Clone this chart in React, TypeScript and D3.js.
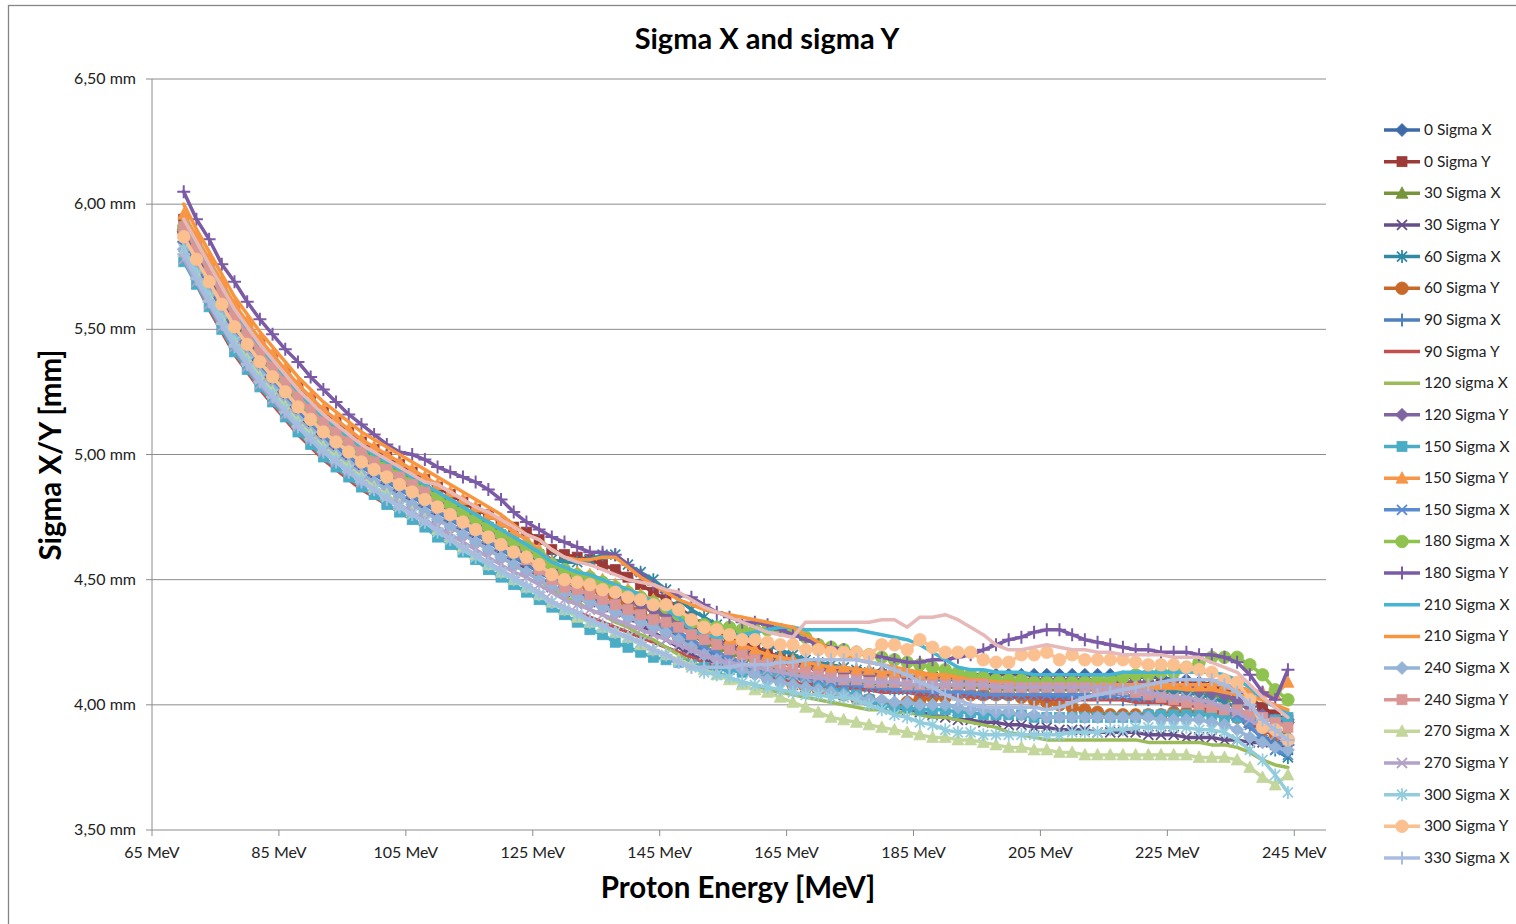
import React from "react";
import * as d3 from "d3";

// Proton energies [MeV] of every measurement point
const energies = [
  70, 72, 74, 76, 78, 80, 82, 84, 86, 88,
  90, 92, 94, 96, 98, 100, 102, 104, 106, 108,
  110, 112, 114, 116, 118, 120, 122, 124, 126, 128,
  130, 132, 134, 136, 138, 140, 142, 144, 146, 148,
  150, 152, 154, 156, 158, 160, 162, 164, 166, 168,
  170, 172, 174, 176, 178, 180, 182, 184, 186, 188,
  190, 192, 194, 196, 198, 200, 202, 204, 206, 208,
  210, 212, 214, 216, 218, 220, 222, 224, 226, 228,
  230, 232, 234, 236, 238, 240, 242, 244,
];

// Beam sigma [mm] per gantry angle
const sigma0X = [
  5.90, 5.81, 5.72, 5.63, 5.54, 5.47, 5.40, 5.34, 5.28, 5.22,
  5.17, 5.12, 5.08, 5.04, 5.00, 4.97, 4.94, 4.91, 4.88, 4.85,
  4.82, 4.79, 4.76, 4.73, 4.70, 4.67, 4.64, 4.61, 4.58, 4.55,
  4.53, 4.51, 4.49, 4.47, 4.45, 4.43, 4.41, 4.39, 4.37, 4.34,
  4.31, 4.28, 4.26, 4.24, 4.22, 4.20, 4.19, 4.18, 4.17, 4.16,
  4.15, 4.14, 4.14, 4.13, 4.13, 4.13, 4.12, 4.12, 4.12, 4.12,
  4.12, 4.12, 4.12, 4.12, 4.12, 4.12, 4.12, 4.12, 4.12, 4.12,
  4.12, 4.12, 4.12, 4.12, 4.11, 4.11, 4.11, 4.11, 4.10, 4.10,
  4.09, 4.08, 4.07, 4.05, 4.02, 3.98, 3.95, 3.93,
];
const sigma0Y = [
  5.94, 5.85, 5.76, 5.67, 5.59, 5.52, 5.45, 5.39, 5.33, 5.27,
  5.22, 5.17, 5.13, 5.09, 5.05, 5.02, 4.99, 4.96, 4.93, 4.90,
  4.87, 4.84, 4.81, 4.78, 4.76, 4.73, 4.71, 4.69, 4.66, 4.62,
  4.60, 4.59, 4.58, 4.56, 4.54, 4.51, 4.48, 4.45, 4.42, 4.39,
  4.35, 4.32, 4.29, 4.27, 4.25, 4.23, 4.21, 4.19, 4.18, 4.16,
  4.15, 4.14, 4.13, 4.13, 4.12, 4.12, 4.12, 4.12, 4.11, 4.11,
  4.11, 4.11, 4.11, 4.10, 4.10, 4.10, 4.10, 4.10, 4.10, 4.10,
  4.10, 4.10, 4.09, 4.09, 4.09, 4.09, 4.08, 4.08, 4.08, 4.08,
  4.07, 4.07, 4.06, 4.05, 4.03, 3.99, 3.96, 3.94,
];
const sigma30X = [
  5.93, 5.83, 5.74, 5.65, 5.56, 5.49, 5.42, 5.36, 5.30, 5.24,
  5.19, 5.14, 5.10, 5.06, 5.02, 4.99, 4.96, 4.93, 4.90, 4.87,
  4.84, 4.81, 4.78, 4.75, 4.72, 4.69, 4.66, 4.63, 4.60, 4.56,
  4.53, 4.51, 4.49, 4.47, 4.45, 4.42, 4.40, 4.37, 4.35, 4.32,
  4.28, 4.25, 4.23, 4.21, 4.19, 4.17, 4.15, 4.14, 4.13, 4.12,
  4.11, 4.10, 4.10, 4.09, 4.09, 4.08, 4.08, 4.08, 4.07, 4.07,
  4.07, 4.07, 4.07, 4.07, 4.06, 4.06, 4.06, 4.06, 4.06, 4.06,
  4.06, 4.06, 4.06, 4.06, 4.06, 4.06, 4.06, 4.05, 4.05, 4.05,
  4.04, 4.04, 4.03, 4.01, 3.98, 3.93, 3.90, 3.88,
];
const sigma30Y = [
  5.83, 5.74, 5.65, 5.56, 5.47, 5.40, 5.33, 5.27, 5.21, 5.15,
  5.10, 5.05, 5.01, 4.97, 4.93, 4.90, 4.87, 4.84, 4.81, 4.78,
  4.75, 4.72, 4.69, 4.66, 4.63, 4.60, 4.57, 4.54, 4.51, 4.47,
  4.45, 4.43, 4.41, 4.39, 4.37, 4.35, 4.32, 4.29, 4.26, 4.23,
  4.20, 4.18, 4.17, 4.15, 4.14, 4.13, 4.11, 4.10, 4.08, 4.07,
  4.06, 4.05, 4.04, 4.03, 4.02, 4.00, 3.99, 3.98, 3.97, 3.96,
  3.95, 3.94, 3.94, 3.93, 3.93, 3.92, 3.92, 3.91, 3.91, 3.90,
  3.90, 3.90, 3.89, 3.89, 3.89, 3.89, 3.88, 3.88, 3.88, 3.87,
  3.87, 3.87, 3.86, 3.86, 3.85, 3.85, 3.84, 3.82,
];
const sigma60X = [
  5.91, 5.82, 5.73, 5.64, 5.55, 5.48, 5.41, 5.35, 5.29, 5.23,
  5.18, 5.13, 5.09, 5.05, 5.01, 4.98, 4.95, 4.92, 4.89, 4.86,
  4.83, 4.80, 4.77, 4.74, 4.71, 4.68, 4.65, 4.62, 4.60, 4.58,
  4.57, 4.57, 4.58, 4.60, 4.60, 4.56, 4.53, 4.50, 4.46, 4.42,
  4.38, 4.35, 4.32, 4.30, 4.28, 4.26, 4.24, 4.22, 4.20, 4.18,
  4.17, 4.16, 4.15, 4.14, 4.13, 4.12, 4.12, 4.11, 4.11, 4.10,
  4.10, 4.10, 4.09, 4.09, 4.09, 4.08, 4.08, 4.08, 4.08, 4.08,
  4.08, 4.08, 4.07, 4.07, 4.07, 4.07, 4.06, 4.06, 4.05, 4.05,
  4.04, 4.03, 4.01, 3.99, 3.95, 3.88, 3.82, 3.79,
];
const sigma60Y = [
  5.89, 5.80, 5.71, 5.62, 5.53, 5.46, 5.39, 5.33, 5.27, 5.21,
  5.16, 5.11, 5.07, 5.03, 4.99, 4.96, 4.93, 4.90, 4.87, 4.84,
  4.81, 4.78, 4.75, 4.72, 4.69, 4.66, 4.63, 4.60, 4.57, 4.53,
  4.50, 4.48, 4.46, 4.44, 4.42, 4.40, 4.37, 4.34, 4.31, 4.27,
  4.24, 4.21, 4.19, 4.17, 4.15, 4.13, 4.11, 4.10, 4.08, 4.07,
  4.06, 4.05, 4.04, 4.03, 4.02, 4.01, 4.00, 4.01, 4.02, 4.03,
  4.03, 4.04, 4.04, 4.04, 4.04, 4.04, 4.03, 4.02, 4.01, 4.00,
  3.99, 3.98, 3.97, 3.96, 3.96, 3.96, 3.96, 3.96, 3.97, 3.97,
  3.97, 3.97, 3.96, 3.95, 3.93, 3.90, 3.88, 3.86,
];
const sigma90X = [
  5.85, 5.76, 5.67, 5.58, 5.49, 5.42, 5.35, 5.29, 5.23, 5.17,
  5.12, 5.07, 5.03, 4.99, 4.95, 4.92, 4.89, 4.86, 4.83, 4.80,
  4.77, 4.74, 4.71, 4.68, 4.65, 4.62, 4.59, 4.56, 4.53, 4.50,
  4.47, 4.45, 4.43, 4.41, 4.39, 4.37, 4.35, 4.33, 4.31, 4.28,
  4.25, 4.22, 4.20, 4.18, 4.16, 4.14, 4.13, 4.12, 4.11, 4.10,
  4.09, 4.08, 4.07, 4.07, 4.06, 4.06, 4.05, 4.05, 4.05, 4.04,
  4.04, 4.04, 4.04, 4.03, 4.03, 4.03, 4.03, 4.03, 4.03, 4.03,
  4.03, 4.03, 4.03, 4.03, 4.02, 4.02, 4.02, 4.02, 4.01, 4.01,
  4.00, 3.99, 3.97, 3.95, 3.91, 3.87, 3.85, 3.84,
];
const sigma90Y = [
  5.80, 5.68, 5.58, 5.49, 5.40, 5.33, 5.26, 5.20, 5.14, 5.08,
  5.03, 4.98, 4.94, 4.90, 4.86, 4.83, 4.80, 4.77, 4.74, 4.71,
  4.68, 4.65, 4.62, 4.59, 4.56, 4.53, 4.50, 4.48, 4.45, 4.41,
  4.39, 4.37, 4.35, 4.33, 4.31, 4.29, 4.27, 4.25, 4.23, 4.21,
  4.19, 4.17, 4.15, 4.14, 4.13, 4.12, 4.11, 4.10, 4.09, 4.08,
  4.08, 4.07, 4.07, 4.06, 4.06, 4.05, 4.05, 4.05, 4.04, 4.04,
  4.04, 4.04, 4.03, 4.03, 4.03, 4.03, 4.03, 4.03, 4.02, 4.02,
  4.02, 4.02, 4.02, 4.02, 4.02, 4.01, 4.01, 4.01, 4.00, 4.00,
  3.99, 3.98, 3.97, 3.96, 3.93, 3.90, 3.88, 3.87,
];
const sigma120X = [
  5.82, 5.73, 5.64, 5.55, 5.46, 5.39, 5.32, 5.26, 5.20, 5.14,
  5.09, 5.04, 5.00, 4.96, 4.92, 4.89, 4.86, 4.83, 4.80, 4.77,
  4.74, 4.71, 4.68, 4.65, 4.62, 4.59, 4.56, 4.53, 4.50, 4.46,
  4.43, 4.41, 4.38, 4.36, 4.33, 4.31, 4.28, 4.26, 4.23, 4.20,
  4.17, 4.15, 4.13, 4.11, 4.09, 4.08, 4.06, 4.05, 4.04, 4.03,
  4.02, 4.01, 4.00, 3.99, 3.98, 3.98, 3.97, 3.97, 3.96, 3.95,
  3.95, 3.94, 3.93, 3.92, 3.91, 3.89, 3.88, 3.87, 3.86, 3.86,
  3.86, 3.86, 3.86, 3.86, 3.86, 3.86, 3.85, 3.85, 3.85, 3.85,
  3.85, 3.84, 3.84, 3.83, 3.81, 3.78, 3.76, 3.75,
];
const sigma120Y = [
  5.89, 5.80, 5.71, 5.62, 5.53, 5.46, 5.39, 5.33, 5.27, 5.21,
  5.16, 5.11, 5.07, 5.03, 4.99, 4.96, 4.93, 4.90, 4.87, 4.84,
  4.81, 4.78, 4.75, 4.72, 4.69, 4.66, 4.63, 4.60, 4.57, 4.54,
  4.52, 4.50, 4.48, 4.46, 4.44, 4.42, 4.40, 4.38, 4.36, 4.33,
  4.30, 4.27, 4.25, 4.23, 4.21, 4.19, 4.18, 4.17, 4.16, 4.15,
  4.14, 4.14, 4.13, 4.13, 4.12, 4.12, 4.12, 4.11, 4.11, 4.11,
  4.11, 4.11, 4.11, 4.10, 4.10, 4.10, 4.10, 4.10, 4.10, 4.10,
  4.10, 4.10, 4.10, 4.09, 4.09, 4.09, 4.09, 4.08, 4.08, 4.07,
  4.06, 4.05, 4.04, 4.02, 3.99, 3.96, 3.94, 3.94,
];
const sigma150X = [
  5.77, 5.68, 5.59, 5.50, 5.41, 5.34, 5.27, 5.21, 5.15, 5.09,
  5.04, 4.99, 4.95, 4.91, 4.87, 4.84, 4.80, 4.77, 4.74, 4.71,
  4.67, 4.64, 4.61, 4.58, 4.54, 4.51, 4.48, 4.45, 4.42, 4.39,
  4.36, 4.33, 4.30, 4.28, 4.25, 4.23, 4.21, 4.19, 4.18, 4.17,
  4.16, 4.15, 4.14, 4.14, 4.13, 4.13, 4.12, 4.12, 4.12, 4.11,
  4.09, 4.07, 4.05, 4.04, 4.02, 4.00, 3.99, 3.99, 3.98, 3.98,
  3.98, 3.97, 3.97, 3.96, 3.96, 3.96, 3.96, 3.95, 3.95, 3.95,
  3.95, 3.95, 3.95, 3.95, 3.95, 3.95, 3.96, 3.96, 3.96, 3.96,
  3.96, 3.96, 3.95, 3.95, 3.94, 3.94, 3.94, 3.95,
];
const sigma150Y = [
  5.96, 5.87, 5.78, 5.69, 5.60, 5.53, 5.46, 5.40, 5.34, 5.28,
  5.23, 5.18, 5.14, 5.10, 5.06, 5.03, 5.00, 4.97, 4.94, 4.91,
  4.88, 4.85, 4.82, 4.79, 4.76, 4.73, 4.69, 4.66, 4.62, 4.57,
  4.54, 4.53, 4.52, 4.50, 4.48, 4.46, 4.44, 4.42, 4.40, 4.37,
  4.33, 4.30, 4.28, 4.26, 4.24, 4.22, 4.20, 4.19, 4.18, 4.17,
  4.16, 4.15, 4.15, 4.14, 4.14, 4.13, 4.13, 4.13, 4.12, 4.12,
  4.12, 4.12, 4.11, 4.11, 4.10, 4.10, 4.10, 4.09, 4.09, 4.09,
  4.09, 4.09, 4.09, 4.08, 4.08, 4.08, 4.08, 4.08, 4.08, 4.08,
  4.08, 4.08, 4.08, 4.07, 4.06, 4.05, 4.04, 4.09,
];
const sigma150Xb = [
  5.86, 5.77, 5.68, 5.59, 5.51, 5.43, 5.36, 5.30, 5.24, 5.19,
  5.13, 5.08, 5.04, 5.00, 4.96, 4.93, 4.90, 4.87, 4.84, 4.81,
  4.78, 4.75, 4.72, 4.69, 4.66, 4.63, 4.60, 4.58, 4.55, 4.51,
  4.48, 4.46, 4.44, 4.42, 4.40, 4.38, 4.36, 4.34, 4.32, 4.29,
  4.26, 4.23, 4.21, 4.19, 4.17, 4.15, 4.14, 4.13, 4.12, 4.11,
  4.10, 4.09, 4.08, 4.08, 4.07, 4.07, 4.06, 4.06, 4.06, 4.05,
  4.05, 4.05, 4.05, 4.04, 4.04, 4.04, 4.04, 4.04, 4.04, 4.04,
  4.04, 4.04, 4.04, 4.04, 4.04, 4.03, 4.03, 4.03, 4.02, 4.02,
  4.01, 4.00, 3.98, 3.96, 3.92, 3.86, 3.82, 3.80,
];
const sigma180X = [
  5.91, 5.82, 5.73, 5.64, 5.55, 5.48, 5.41, 5.35, 5.29, 5.23,
  5.18, 5.13, 5.09, 5.05, 5.01, 4.98, 4.95, 4.92, 4.89, 4.86,
  4.83, 4.80, 4.77, 4.74, 4.71, 4.68, 4.65, 4.63, 4.60, 4.56,
  4.54, 4.52, 4.51, 4.49, 4.47, 4.45, 4.43, 4.41, 4.39, 4.36,
  4.33, 4.32, 4.31, 4.31, 4.30, 4.30, 4.30, 4.30, 4.29, 4.27,
  4.24, 4.23, 4.22, 4.21, 4.20, 4.19, 4.18, 4.17, 4.16, 4.15,
  4.14, 4.13, 4.12, 4.11, 4.10, 4.10, 4.10, 4.09, 4.09, 4.09,
  4.09, 4.09, 4.10, 4.10, 4.11, 4.12, 4.12, 4.13, 4.13, 4.15,
  4.17, 4.19, 4.19, 4.19, 4.16, 4.12, 4.06, 4.02,
];
const sigma180Y = [
  6.05, 5.94, 5.86, 5.76, 5.69, 5.61, 5.54, 5.48, 5.42, 5.37,
  5.31, 5.26, 5.21, 5.16, 5.12, 5.08, 5.04, 5.01, 5.00, 4.98,
  4.95, 4.93, 4.91, 4.89, 4.86, 4.82, 4.77, 4.73, 4.70, 4.67,
  4.65, 4.63, 4.61, 4.61, 4.60, 4.56, 4.52, 4.48, 4.45, 4.44,
  4.43, 4.40, 4.37, 4.35, 4.33, 4.33, 4.32, 4.30, 4.28, 4.26,
  4.24, 4.23, 4.22, 4.21, 4.20, 4.19, 4.18, 4.17, 4.17, 4.18,
  4.18, 4.19, 4.20, 4.22, 4.24, 4.26, 4.27, 4.29, 4.30, 4.30,
  4.28, 4.26, 4.25, 4.24, 4.23, 4.22, 4.22, 4.21, 4.21, 4.21,
  4.20, 4.20, 4.19, 4.17, 4.12, 4.05, 4.02, 4.14,
];
const sigma210X = [
  5.92, 5.83, 5.75, 5.66, 5.57, 5.50, 5.43, 5.37, 5.31, 5.25,
  5.20, 5.15, 5.11, 5.07, 5.03, 5.00, 4.97, 4.94, 4.91, 4.88,
  4.85, 4.82, 4.79, 4.76, 4.73, 4.70, 4.67, 4.64, 4.61, 4.57,
  4.55, 4.53, 4.52, 4.50, 4.48, 4.46, 4.44, 4.41, 4.38, 4.35,
  4.30, 4.28, 4.27, 4.27, 4.28, 4.29, 4.30, 4.31, 4.31, 4.30,
  4.30, 4.30, 4.30, 4.30, 4.29, 4.28, 4.27, 4.26, 4.24, 4.21,
  4.18, 4.15, 4.14, 4.14, 4.13, 4.13, 4.13, 4.12, 4.12, 4.12,
  4.12, 4.12, 4.12, 4.12, 4.13, 4.13, 4.13, 4.13, 4.13, 4.13,
  4.13, 4.13, 4.12, 4.10, 4.07, 4.02, 3.99, 3.97,
];
const sigma210Y = [
  6.00, 5.90, 5.81, 5.72, 5.63, 5.56, 5.49, 5.43, 5.37, 5.31,
  5.26, 5.21, 5.17, 5.13, 5.09, 5.06, 5.03, 5.00, 4.97, 4.94,
  4.91, 4.88, 4.85, 4.82, 4.79, 4.76, 4.72, 4.68, 4.66, 4.62,
  4.59, 4.58, 4.58, 4.59, 4.59, 4.55, 4.51, 4.48, 4.45, 4.42,
  4.40, 4.38, 4.37, 4.36, 4.35, 4.34, 4.33, 4.32, 4.31, 4.28,
  4.25, 4.22, 4.20, 4.18, 4.17, 4.16, 4.15, 4.14, 4.13, 4.12,
  4.12, 4.11, 4.10, 4.10, 4.09, 4.09, 4.08, 4.08, 4.08, 4.08,
  4.08, 4.08, 4.08, 4.08, 4.08, 4.07, 4.07, 4.07, 4.07, 4.06,
  4.06, 4.06, 4.05, 4.04, 4.03, 4.02, 4.00, 3.98,
];
const sigma240X = [
  5.82, 5.73, 5.64, 5.55, 5.46, 5.39, 5.32, 5.26, 5.20, 5.14,
  5.09, 5.04, 5.00, 4.96, 4.92, 4.89, 4.86, 4.83, 4.80, 4.77,
  4.74, 4.71, 4.68, 4.65, 4.62, 4.59, 4.56, 4.53, 4.50, 4.47,
  4.45, 4.43, 4.41, 4.39, 4.37, 4.35, 4.33, 4.31, 4.29, 4.26,
  4.23, 4.20, 4.18, 4.16, 4.14, 4.12, 4.10, 4.09, 4.08, 4.07,
  4.06, 4.05, 4.04, 4.03, 4.02, 4.02, 4.01, 4.01, 4.00, 4.00,
  4.00, 3.99, 3.98, 3.98, 3.97, 3.97, 3.96, 3.96, 3.95, 3.95,
  3.95, 3.95, 3.95, 3.95, 3.95, 3.95, 3.95, 3.94, 3.94, 3.94,
  3.94, 3.93, 3.92, 3.90, 3.87, 3.85, 3.83, 3.82,
];
const sigma240Y = [
  5.91, 5.82, 5.73, 5.64, 5.55, 5.48, 5.41, 5.35, 5.29, 5.23,
  5.18, 5.13, 5.09, 5.05, 5.01, 4.97, 4.94, 4.91, 4.88, 4.85,
  4.79, 4.76, 4.73, 4.70, 4.67, 4.64, 4.61, 4.58, 4.54, 4.50,
  4.47, 4.46, 4.44, 4.42, 4.40, 4.38, 4.36, 4.34, 4.33, 4.31,
  4.28, 4.26, 4.24, 4.22, 4.20, 4.18, 4.16, 4.15, 4.14, 4.13,
  4.12, 4.11, 4.10, 4.10, 4.09, 4.09, 4.09, 4.08, 4.08, 4.08,
  4.08, 4.08, 4.08, 4.08, 4.07, 4.07, 4.07, 4.07, 4.07, 4.07,
  4.07, 4.07, 4.06, 4.06, 4.06, 4.05, 4.04, 4.03, 4.02, 4.01,
  4.00, 3.99, 3.98, 3.98, 3.96, 3.95, 3.93, 3.91,
];
const sigma270X = [
  5.81, 5.72, 5.63, 5.54, 5.45, 5.38, 5.31, 5.25, 5.19, 5.13,
  5.08, 5.03, 4.99, 4.95, 4.91, 4.87, 4.84, 4.80, 4.77, 4.74,
  4.70, 4.67, 4.63, 4.60, 4.56, 4.53, 4.50, 4.47, 4.44, 4.41,
  4.38, 4.35, 4.33, 4.31, 4.29, 4.27, 4.24, 4.22, 4.20, 4.18,
  4.16, 4.14, 4.12, 4.10, 4.08, 4.06, 4.05, 4.03, 4.01, 3.99,
  3.97, 3.95, 3.94, 3.93, 3.92, 3.91, 3.90, 3.89, 3.88, 3.87,
  3.87, 3.86, 3.86, 3.85, 3.84, 3.83, 3.83, 3.82, 3.82, 3.81,
  3.81, 3.80, 3.80, 3.80, 3.80, 3.80, 3.80, 3.80, 3.80, 3.80,
  3.79, 3.79, 3.79, 3.78, 3.75, 3.71, 3.68, 3.72,
];
const sigma270Y = [
  5.78, 5.69, 5.60, 5.51, 5.43, 5.35, 5.28, 5.22, 5.16, 5.11,
  5.06, 5.01, 4.97, 4.93, 4.89, 4.86, 4.83, 4.80, 4.77, 4.74,
  4.71, 4.68, 4.65, 4.62, 4.59, 4.56, 4.53, 4.51, 4.48, 4.45,
  4.42, 4.40, 4.38, 4.36, 4.34, 4.32, 4.30, 4.28, 4.26, 4.24,
  4.22, 4.20, 4.18, 4.17, 4.16, 4.15, 4.14, 4.13, 4.12, 4.11,
  4.11, 4.10, 4.10, 4.10, 4.09, 4.09, 4.09, 4.08, 4.08, 4.08,
  4.08, 4.08, 4.08, 4.08, 4.07, 4.07, 4.07, 4.07, 4.07, 4.07,
  4.07, 4.07, 4.07, 4.07, 4.06, 4.06, 4.05, 4.04, 4.03, 4.03,
  4.02, 4.01, 3.99, 3.97, 3.94, 3.91, 3.88, 3.86,
];
const sigma300X = [
  5.82, 5.72, 5.63, 5.54, 5.45, 5.37, 5.30, 5.24, 5.18, 5.12,
  5.07, 5.02, 4.98, 4.94, 4.90, 4.86, 4.83, 4.79, 4.76, 4.73,
  4.69, 4.66, 4.62, 4.59, 4.56, 4.53, 4.50, 4.47, 4.44, 4.41,
  4.38, 4.36, 4.33, 4.31, 4.29, 4.27, 4.25, 4.22, 4.20, 4.17,
  4.15, 4.13, 4.12, 4.11, 4.09, 4.08, 4.07, 4.06, 4.05, 4.04,
  4.04, 4.03, 4.03, 4.02, 4.00, 3.98, 3.96, 3.95, 3.93, 3.92,
  3.90, 3.89, 3.89, 3.88, 3.88, 3.88, 3.88, 3.88, 3.88, 3.88,
  3.89, 3.89, 3.89, 3.90, 3.90, 3.91, 3.91, 3.91, 3.91, 3.91,
  3.90, 3.90, 3.89, 3.86, 3.82, 3.78, 3.72, 3.65,
];
const sigma300Y = [
  5.87, 5.78, 5.69, 5.60, 5.51, 5.44, 5.37, 5.31, 5.25, 5.19,
  5.14, 5.09, 5.05, 5.01, 4.97, 4.94, 4.91, 4.88, 4.85, 4.82,
  4.79, 4.76, 4.73, 4.70, 4.67, 4.64, 4.61, 4.59, 4.56, 4.52,
  4.50, 4.49, 4.48, 4.46, 4.45, 4.43, 4.42, 4.40, 4.40, 4.38,
  4.34, 4.31, 4.30, 4.28, 4.26, 4.26, 4.25, 4.24, 4.24, 4.22,
  4.22, 4.21, 4.21, 4.21, 4.20, 4.24, 4.24, 4.22, 4.26, 4.23,
  4.21, 4.21, 4.21, 4.18, 4.17, 4.17, 4.20, 4.20, 4.21, 4.18,
  4.20, 4.18, 4.18, 4.18, 4.18, 4.17, 4.16, 4.16, 4.16, 4.15,
  4.14, 4.13, 4.10, 4.09, 4.02, 3.91, 3.90, 3.86,
];
const sigma330X = [
  5.80, 5.70, 5.61, 5.52, 5.43, 5.36, 5.29, 5.23, 5.17, 5.11,
  5.06, 5.01, 4.97, 4.93, 4.89, 4.86, 4.82, 4.79, 4.76, 4.73,
  4.70, 4.66, 4.63, 4.60, 4.57, 4.54, 4.51, 4.48, 4.45, 4.41,
  4.39, 4.37, 4.34, 4.32, 4.29, 4.27, 4.25, 4.22, 4.20, 4.17,
  4.15, 4.15, 4.15, 4.15, 4.16, 4.16, 4.16, 4.17, 4.17, 4.18,
  4.18, 4.18, 4.18, 4.18, 4.17, 4.16, 4.14, 4.12, 4.09, 4.07,
  4.04, 4.02, 4.00, 3.99, 3.99, 3.99, 3.99, 3.99, 3.98, 3.99,
  4.01, 4.03, 4.04, 4.05, 4.06, 4.07, 4.08, 4.09, 4.10, 4.10,
  4.10, 4.10, 4.08, 4.05, 4.00, 3.94, 3.90, 3.86,
];
const sigma330Y = [
  5.94, 5.85, 5.76, 5.67, 5.58, 5.51, 5.44, 5.38, 5.32, 5.26,
  5.21, 5.16, 5.12, 5.08, 5.04, 5.01, 4.98, 4.95, 4.92, 4.89,
  4.88, 4.85, 4.82, 4.79, 4.77, 4.74, 4.71, 4.68, 4.66, 4.62,
  4.59, 4.57, 4.56, 4.54, 4.52, 4.50, 4.49, 4.48, 4.46, 4.45,
  4.42, 4.39, 4.37, 4.35, 4.33, 4.31, 4.29, 4.28, 4.27, 4.33,
  4.33, 4.33, 4.33, 4.33, 4.33, 4.34, 4.34, 4.31, 4.35, 4.35,
  4.36, 4.34, 4.31, 4.28, 4.24, 4.22, 4.22, 4.23, 4.24, 4.23,
  4.22, 4.22, 4.21, 4.21, 4.20, 4.20, 4.20, 4.20, 4.19, 4.19,
  4.19, 4.17, 4.15, 4.13, 4.08, 4.03, 3.99, 3.95,
];

const seriesNames = [
  "0 Sigma X", "0 Sigma Y", "30 Sigma X", "30 Sigma Y", "60 Sigma X", "60 Sigma Y",
  "90 Sigma X", "90 Sigma Y", "120 sigma X", "120 Sigma Y", "150 Sigma X", "150 Sigma Y",
  "150 Sigma X", "180 Sigma X", "180 Sigma Y", "210 Sigma X", "210 Sigma Y", "240 Sigma X",
  "240 Sigma Y", "270 Sigma X", "270 Sigma Y", "300 Sigma X", "300 Sigma Y", "330 Sigma X",
  "330 Sigma Y",
];
const seriesValues = [
  sigma0X, sigma0Y, sigma30X, sigma30Y, sigma60X, sigma60Y,
  sigma90X, sigma90Y, sigma120X, sigma120Y, sigma150X, sigma150Y,
  sigma150Xb, sigma180X, sigma180Y, sigma210X, sigma210Y, sigma240X,
  sigma240Y, sigma270X, sigma270Y, sigma300X, sigma300Y, sigma330X,
  sigma330Y,
];
const seriesColors = [
  "#3E6BA8", "#9C3A37", "#76953B", "#664E8A", "#2F8AA3", "#C8692A",
  "#4F81BD", "#C0504D", "#9BBB59", "#8064A2", "#4BACC6", "#F79646",
  "#5B8BD0", "#8FC24E", "#7B5BA6", "#46B4D3", "#F8953F", "#95B3D7",
  "#D99694", "#C3D69B", "#B3A2C7", "#93CDDD", "#FAC090", "#A9BCE0",
  "#E6B9B8",
];
type Marker = "diamond" | "square" | "triangle" | "x" | "star" | "circle" | "plus" | "none";
const seriesMarkers: Marker[] = [
  "diamond", "square", "triangle", "x", "star", "circle",
  "plus", "none", "none", "diamond", "square", "triangle",
  "x", "circle", "plus", "none", "none", "diamond",
  "square", "triangle", "x", "star", "circle", "plus",
  "none",
];
const legendCount = 24;

const yTicks = [3.5, 4.0, 4.5, 5.0, 5.5, 6.0, 6.5];
const xTicks = [65, 85, 105, 125, 145, 165, 185, 205, 225, 245];

const W = 1516;
const H = 924;
const plot = { left: 152, right: 1326, top: 79, bottom: 830 };
const FONT = "Lato, 'Open Sans', sans-serif";

function MarkerGlyph({ kind, x, y, color }: { kind: Marker; x: number; y: number; color: string }) {
  switch (kind) {
    case "diamond":
      return <path d={`M${x},${y - 6.5}L${x + 6.5},${y}L${x},${y + 6.5}L${x - 6.5},${y}Z`} fill={color} stroke={color} strokeWidth={0.8} />;
    case "square":
      return <rect x={x - 5} y={y - 5} width={10} height={10} fill={color} stroke={color} strokeWidth={0.8} />;
    case "triangle":
      return <path d={`M${x},${y - 6.5}L${x + 6},${y + 5}L${x - 6},${y + 5}Z`} fill={color} stroke={color} strokeWidth={0.8} />;
    case "circle":
      return <circle cx={x} cy={y} r={6.3} fill={color} stroke={color} strokeWidth={0.8} />;
    case "x":
      return <path d={`M${x - 5},${y - 5}L${x + 5},${y + 5}M${x - 5},${y + 5}L${x + 5},${y - 5}`} stroke={color} strokeWidth={1.8} fill="none" />;
    case "star":
      return <path d={`M${x - 5},${y - 5}L${x + 5},${y + 5}M${x - 5},${y + 5}L${x + 5},${y - 5}M${x},${y - 6.5}L${x},${y + 6.5}`} stroke={color} strokeWidth={1.8} fill="none" />;
    case "plus":
      return <path d={`M${x - 6.5},${y}L${x + 6.5},${y}M${x},${y - 6.5}L${x},${y + 6.5}`} stroke={color} strokeWidth={2} fill="none" />;
    default:
      return null;
  }
}

export default function App() {
  const x = d3.scaleLinear().domain([65, 250]).range([plot.left, plot.right]);
  const y = d3.scaleLinear().domain([3.5, 6.5]).range([plot.bottom, plot.top]);
  const fmtY = (v: number) => d3.format(".2f")(v).replace(".", ",") + " mm";

  const series = seriesNames.map((name, i) => ({
    name,
    values: seriesValues[i],
    color: seriesColors[i],
    marker: seriesMarkers[i],
  }));

  const line = d3
    .line<number>()
    .x((_, i) => x(energies[i]))
    .y((v) => y(v));

  const legendX = 1384;
  const legendY0 = 130;
  const legendStep = 31.65;

  return (
    <svg
      width={W}
      height={H}
      style={{ position: "absolute", left: 0, top: 0, background: "#fff" }}
      fontFamily={FONT}
    >
      <rect x={0} y={0} width={W} height={H} fill="#fff" />
      <rect x={8.5} y={5.5} width={W + 20} height={H + 20} fill="none" stroke="#868686" strokeWidth={1.3} />

      <text x={767} y={49} textAnchor="middle" fontSize={29} fontWeight={700} fill="#000">
        Sigma X and sigma Y
      </text>

      {/* gridlines and y axis labels */}
      {yTicks.map((t) => (
        <g key={t}>
          {t > 3.5 && (
            <line x1={plot.left} x2={plot.right} y1={y(t)} y2={y(t)} stroke="#8C8C8C" strokeWidth={1} />
          )}
          <line x1={plot.left - 6} x2={plot.left} y1={y(t)} y2={y(t)} stroke="#8C8C8C" strokeWidth={1} />
          <text x={plot.left - 16} y={y(t) + 5} textAnchor="end" fontSize={16} fill="#222">
            {fmtY(t)}
          </text>
        </g>
      ))}

      {/* axes */}
      <line x1={plot.left} x2={plot.left} y1={plot.top} y2={plot.bottom} stroke="#8C8C8C" strokeWidth={1} />
      <line x1={plot.left} x2={plot.right} y1={plot.bottom} y2={plot.bottom} stroke="#8C8C8C" strokeWidth={1} />
      {xTicks.map((t) => (
        <g key={t}>
          <line x1={x(t)} x2={x(t)} y1={plot.bottom} y2={plot.bottom + 6} stroke="#8C8C8C" strokeWidth={1} />
          <text x={x(t)} y={plot.bottom + 28} textAnchor="middle" fontSize={16} fill="#222">
            {`${t} MeV`}
          </text>
        </g>
      ))}

      <text x={738} y={898} textAnchor="middle" fontSize={29.5} fontWeight={700} fill="#000">
        Proton Energy [MeV]
      </text>
      <text
        transform={`translate(61,455) rotate(-90)`}
        textAnchor="middle"
        fontSize={29.5}
        fontWeight={700}
        fill="#000"
      >
        Sigma X/Y [mm]
      </text>

      {/* data series */}
      {series.map((s, si) => (
        <g key={si}>
          <path
            d={line(s.values) || ""}
            fill="none"
            stroke={s.color}
            strokeWidth={3.5}
            strokeLinejoin="round"
            strokeLinecap="round"
          />
          {s.marker !== "none" &&
            s.values.map((v, i) => (
              <MarkerGlyph key={i} kind={s.marker} x={x(energies[i])} y={y(v)} color={s.color} />
            ))}
        </g>
      ))}

      {/* legend */}
      {series.slice(0, legendCount).map((s, i) => {
        const ly = legendY0 + i * legendStep;
        return (
          <g key={i}>
            <line x1={legendX} x2={legendX + 36} y1={ly} y2={ly} stroke={s.color} strokeWidth={3.5} />
            <MarkerGlyph kind={s.marker} x={legendX + 18} y={ly} color={s.color} />
            <text x={legendX + 40} y={ly + 5} fontSize={15.5} fill="#222">
              {s.name}
            </text>
          </g>
        );
      })}
    </svg>
  );
}
